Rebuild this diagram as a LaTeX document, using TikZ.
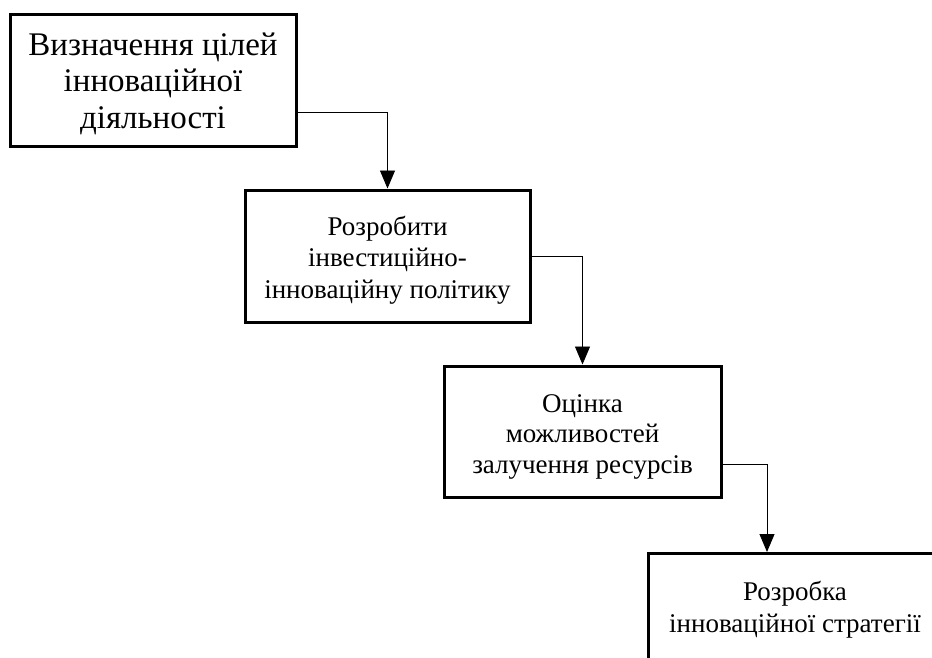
\documentclass[tikz,border=0pt]{standalone}
\usepackage{fontspec}
\setmainfont{Liberation Serif}
\usetikzlibrary{arrows.meta}
\begin{document}
\begin{tikzpicture}[x=1pt,y=-1pt,
  box/.style={draw,line width=3pt,inner sep=0pt},
  txt/.style={align=center,inner sep=0pt,anchor=base,
    font=\fontsize{27}{31.5}\selectfont},
  bigtxt/.style={txt,font=\fontsize{33}{36.5}\selectfont},
  arr/.style={line width=0.9pt,-{Triangle[length=18pt,width=15pt]}}]
\useasboundingbox (0,0) rectangle (932,657);
\clip (0,0) rectangle (932,657);
\fill[white] (0,0) rectangle (932,657);
\node[box,minimum width=286pt,minimum height=132pt] (b1) at (153,80) {};
\node[bigtxt] (t1) at (153,128) {Визначення цілей\\інноваційної\\діяльності};
\node[box,minimum width=285pt,minimum height=132pt] (b2) at (387.5,256) {};
\node[txt] (t2) at (387.5,298) {Розробити\\інвестиційно-\\інноваційну політику};
\node[box,minimum width=277pt,minimum height=131pt] (b3) at (582.5,431.5) {};
\node[txt,font=\fontsize{27}{30.5}\selectfont] (t3) at (582.5,473) {Оцінка\\можливостей\\залучення ресурсів};
\node[box,minimum width=294pt,minimum height=150pt,anchor=north] (b4) at (795,552) {};
\node[txt,font=\fontsize{27}{32}\selectfont] (t4) at (795,632) {Розробка\\інноваційної стратегії};
\draw[arr] ([yshift=-32pt]b1.east) -| (b2.north);
\draw[arr] (b2.east) -| (b3.north);
\draw[arr] ([yshift=-32.5pt]b3.east) -| ([xshift=-28pt]b4.north);
\end{tikzpicture}
\end{document}
